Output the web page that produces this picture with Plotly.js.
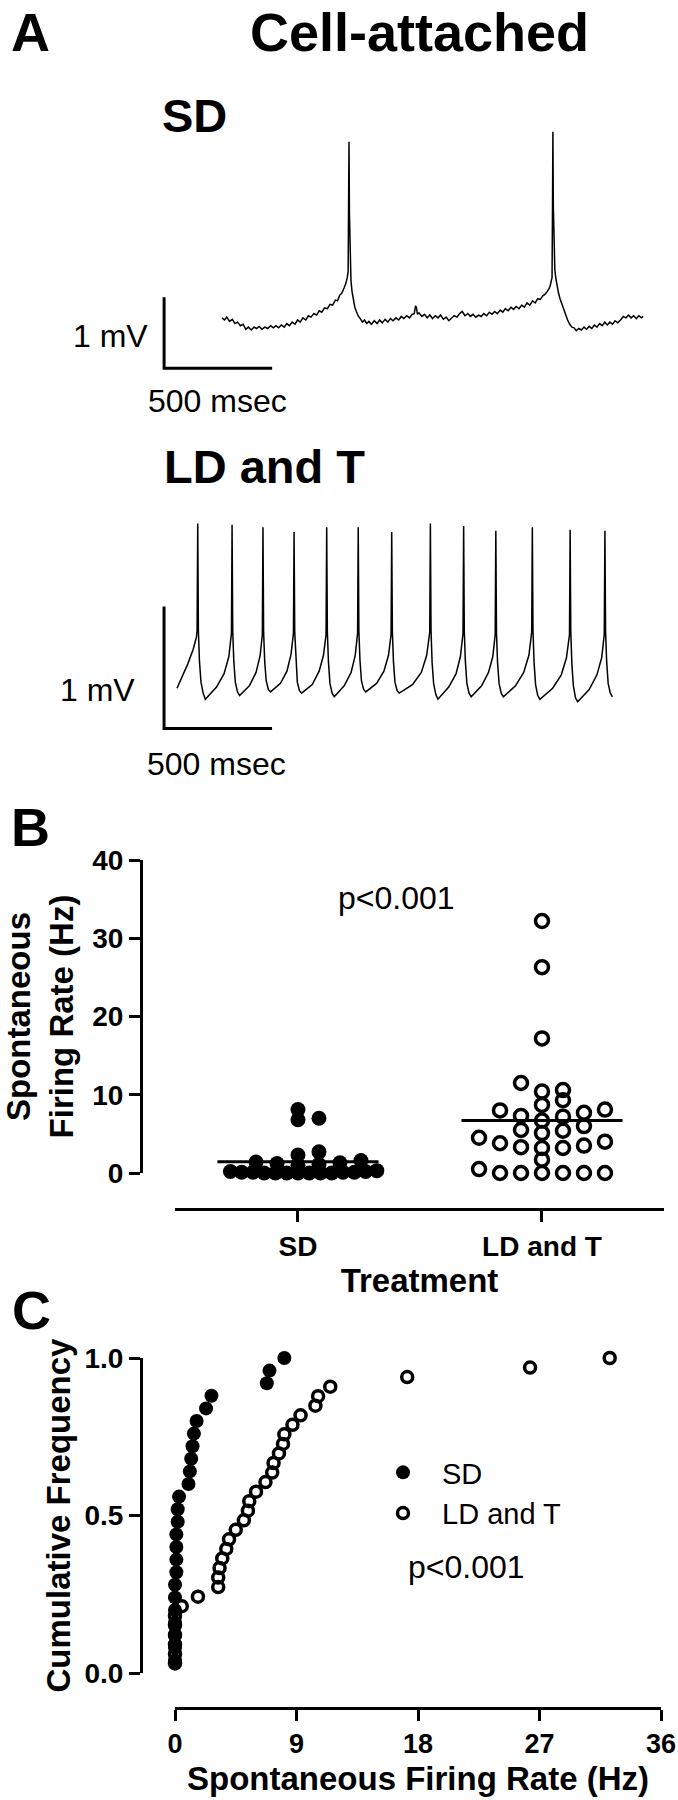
<!DOCTYPE html>
<html>
<head>
<meta charset="utf-8">
<script src="https://cdn.plot.ly/plotly-3.0.1.min.js"></script>
<style>body{margin:0;background:#fff}</style>
</head>
<body>
<div id="fig" style="width:678px;height:1800px"></div>
<script>
// Panel A: cell-attached recordings, time in ms, voltage in mV
var sdTime = [0,12,22,35,48,60,72,85,98,110,122,135,148,160,172,185,198,212,225,238,250,262,275,288,300,312,325,338,350,362,375,388,400,412,425,438,450,462,475,488,500,512,525,535,545,555,565,574,580,584,586,588,590,593,597,602,608,615,622,630,640,650,660,670,680,692,705,718,730,742,755,768,780,792,805,818,830,842,855,868,880,890,896,900,905,912,925,938,950,962,975,988,1000,1012,1025,1038,1050,1062,1075,1088,1100,1112,1125,1138,1150,1162,1175,1188,1200,1212,1225,1238,1250,1262,1275,1288,1300,1312,1325,1338,1350,1362,1375,1388,1400,1412,1425,1438,1450,1462,1474,1485,1495,1505,1514,1520,1525,1528,1530,1532,1534,1537,1541,1546,1552,1558,1565,1572,1580,1590,1600,1610,1620,1630,1640,1652,1664,1676,1688,1700,1712,1724,1736,1748,1760,1772,1784,1796,1808,1820,1832,1845,1858,1870,1882,1894,1906,1918,1930,1942,1950];
var sdVolt = [0.03,0.00,0.04,-0.02,0.01,-0.05,-0.03,-0.08,-0.06,-0.13,-0.10,-0.14,-0.10,-0.12,-0.09,-0.13,-0.10,-0.12,-0.08,-0.11,-0.08,-0.11,-0.07,-0.10,-0.05,-0.08,-0.03,-0.06,0.00,-0.03,0.03,0.00,0.06,0.04,0.09,0.07,0.13,0.11,0.17,0.16,0.22,0.21,0.28,0.27,0.35,0.38,0.45,0.52,0.60,0.68,1.60,2.51,1.50,0.80,0.56,0.40,0.28,0.18,0.12,0.06,0.02,-0.03,0.00,-0.05,-0.02,-0.06,-0.01,-0.05,0.00,-0.04,0.01,-0.03,0.02,-0.01,0.03,0.00,0.05,0.02,0.06,0.03,0.08,0.09,0.20,0.18,0.08,0.10,0.05,0.08,0.03,0.07,0.02,0.06,0.03,0.07,0.01,0.04,-0.01,0.03,0.06,0.04,0.09,0.12,0.06,0.09,0.05,0.08,0.04,0.07,0.05,0.09,0.06,0.11,0.08,0.12,0.09,0.14,0.11,0.16,0.13,0.18,0.15,0.19,0.16,0.21,0.18,0.24,0.21,0.27,0.24,0.30,0.29,0.34,0.36,0.40,0.44,0.49,0.54,0.60,1.50,2.65,1.60,0.90,0.70,0.58,0.47,0.38,0.30,0.24,0.15,0.06,0.00,-0.06,-0.10,-0.11,-0.15,-0.12,-0.14,-0.10,-0.13,-0.09,-0.12,-0.07,-0.10,-0.05,-0.08,-0.03,-0.07,-0.03,-0.06,-0.01,-0.04,0.00,0.05,0.03,0.07,0.03,0.06,0.02,0.06,0.03,0.05];

var ldTime = [0,25,50,75,90,93,96,99,104,111,121,131,183,218,240,252,255,258,263,270,280,290,335,366,385,395,398,401,406,413,423,433,479,509,528,539,542,545,550,557,567,577,626,658,678,690,693,696,701,708,718,728,774,806,825,836,839,842,847,854,864,874,924,958,979,991,994,997,1002,1009,1019,1029,1090,1131,1156,1170,1173,1176,1181,1188,1198,1208,1258,1292,1312,1324,1327,1330,1335,1342,1352,1362,1410,1442,1462,1473,1476,1479,1484,1491,1501,1511,1567,1605,1629,1642,1645,1648,1653,1660,1670,1680,1739,1779,1803,1817,1820,1823,1828,1835,1845,1855,1908,1944,1966,1978,1981,1984,1989,1996,2006,2016];
var ldVolt = [0.08,0.18,0.28,0.40,0.50,0.55,1.43,0.55,0.30,0.13,0.04,-0.01,0.09,0.20,0.34,0.53,1.42,0.55,0.30,0.13,0.05,0.02,0.10,0.21,0.35,0.52,1.40,0.54,0.30,0.14,0.07,0.05,0.12,0.22,0.36,0.53,1.36,0.54,0.30,0.13,0.06,0.04,0.11,0.22,0.35,0.52,1.40,0.55,0.30,0.12,0.04,0.01,0.10,0.21,0.35,0.53,1.40,0.55,0.31,0.14,0.07,0.05,0.12,0.22,0.35,0.52,1.36,0.55,0.30,0.13,0.06,0.04,0.11,0.21,0.35,0.54,1.43,0.55,0.29,0.12,0.03,-0.01,0.09,0.20,0.34,0.53,1.41,0.55,0.30,0.12,0.04,0.01,0.10,0.21,0.34,0.52,1.37,0.54,0.29,0.12,0.04,0.01,0.10,0.21,0.35,0.54,1.40,0.55,0.29,0.11,0.02,-0.01,0.08,0.19,0.33,0.52,1.38,0.54,0.28,0.10,0.00,-0.03,0.07,0.19,0.33,0.52,1.37,0.55,0.30,0.12,0.04,0.01];

var barMs = 500;   // time scale bar
var barMv = 1;     // voltage scale bar

// Panel B: spontaneous firing rate per cell (Hz)
var groups = ['SD', 'LD and T'];
var sdRate = [0,0,0,0,0,0,0,0.1,0.1,0.1,0.1,0.2,0.2,0.3,1.0,1.1,1.2,1.3,1.4,1.6,2.3,2.7,6.8,7.0,8.1];
var ldRate = [0,0,0,0,0,0,0.5,1.7,3.2,3.2,3.3,3.5,3.8,4.0,4.5,5.1,5.4,5.5,6.0,6.7,7.2,7.3,7.7,8.0,8.1,8.7,9.3,10.4,10.6,11.5,17.2,26.3,32.2];

var pText = 'p<0.001';

var W = 678, H = 1800;
function fx(p) { return p / W; }
function fy(p) { return 1 - p / H; }

var FONT = 'Liberation Sans, Arial, Helvetica, sans-serif';
var bold = function (s) { return {family: FONT, size: s, color: '#000', weight: 'bold'}; };
var reg = function (s) { return {family: FONT, size: s, color: '#000'}; };

// column scatter like Prism: rows of close values, spread centre-out
function columnX(vals, centre, rowH) {
  var idx = vals.map(function (v, i) { return i; }).sort(function (a, b) { return vals[a] - vals[b]; });
  var xs = new Array(vals.length);
  var rows = [], cur = [];
  idx.forEach(function (i) {
    if (cur.length && vals[i] - vals[cur[0]] > rowH) { rows.push(cur); cur = []; }
    cur.push(i);
  });
  if (cur.length) rows.push(cur);
  rows.forEach(function (r) {
    var slot = r.length > 1 ? Math.min(0.086, 0.6 / (r.length - 1)) : 0;
    r.forEach(function (i, k) {
      var n = Math.ceil(k / 2) * (k % 2 ? 1 : -1);
      xs[i] = centre + n * slot;
    });
  });
  return xs;
}
function mean(a) { return a.reduce(function (s, v) { return s + v; }, 0) / a.length; }
function ecdf(a) {
  var s = a.slice().sort(function (p, q) { return p - q; });
  return {x: s, y: s.map(function (v, i) { return (i + 1) / s.length; })};
}

var sdB = columnX(sdRate, 0, 0.9), ldB = columnX(ldRate, 1, 1.4);
var sdMean = mean(sdRate), ldMean = mean(ldRate);
var sdC = ecdf(sdRate), ldC = ecdf(ldRate);

var blk = '#000';
var data = [
  // panel A
  {x: sdTime, y: sdVolt, xaxis: 'x', yaxis: 'y', mode: 'lines', line: {color: blk, width: 1.5}, showlegend: false, hoverinfo: 'skip'},
  {x: [-268, -268, -268 + barMs], y: [-0.68 + barMv, -0.68, -0.68], xaxis: 'x', yaxis: 'y', mode: 'lines', line: {color: blk, width: 3}, showlegend: false, hoverinfo: 'skip'},
  {x: ldTime, y: ldVolt, xaxis: 'x2', yaxis: 'y2', mode: 'lines', line: {color: blk, width: 1.5}, showlegend: false, hoverinfo: 'skip'},
  {x: [-60, -60, -60 + barMs], y: [-0.25 + barMv, -0.25, -0.25], xaxis: 'x2', yaxis: 'y2', mode: 'lines', line: {color: blk, width: 3}, showlegend: false, hoverinfo: 'skip'},
  // panel B
  {x: sdB, y: sdRate, xaxis: 'x3', yaxis: 'y3', mode: 'markers', cliponaxis: false, showlegend: false,
   marker: {symbol: 'circle', size: 15, color: blk}},
  {x: ldB, y: ldRate, xaxis: 'x3', yaxis: 'y3', mode: 'markers', cliponaxis: false, showlegend: false,
   marker: {symbol: 'circle-open', size: 13, color: blk, line: {color: blk, width: 3.5}}},
  {x: [-0.33, 0.33], y: [sdMean, sdMean], xaxis: 'x3', yaxis: 'y3', mode: 'lines', line: {color: blk, width: 3}, showlegend: false, cliponaxis: false},
  {x: [0.67, 1.33], y: [ldMean, ldMean], xaxis: 'x3', yaxis: 'y3', mode: 'lines', line: {color: blk, width: 3}, showlegend: false, cliponaxis: false},
  // panel C
  {x: sdC.x, y: sdC.y, xaxis: 'x4', yaxis: 'y4', mode: 'markers', cliponaxis: false, name: groups[0],
   marker: {symbol: 'circle', size: 14, color: blk}},
  {x: ldC.x, y: ldC.y, xaxis: 'x4', yaxis: 'y4', mode: 'markers', cliponaxis: false, name: groups[1],
   marker: {symbol: 'circle-open', size: 11, color: blk, line: {color: blk, width: 3.5}}}
];

var hidden = {visible: false, fixedrange: true};
var axStyle = {
  showline: true, linecolor: blk, linewidth: 3, ticks: 'outside', ticklen: 11, tickwidth: 3, tickcolor: blk,
  showgrid: false, zeroline: false, tickfont: bold(28), fixedrange: true, ticklabelstandoff: 0
};

var layout = {
  width: W, height: H,
  margin: {l: 0, r: 0, t: 0, b: 0},
  paper_bgcolor: '#fff', plot_bgcolor: 'rgba(0,0,0,0)',
  font: reg(20),
  xaxis: Object.assign({domain: [fx(150), fx(660)], range: [-333.3, 2027.8], anchor: 'y'}, hidden),
  yaxis: Object.assign({domain: [fy(390), fy(110)], range: [-0.986, 2.958], anchor: 'x'}, hidden),
  xaxis2: Object.assign({domain: [fx(150), fx(660)], range: [-125, 2236], anchor: 'y2'}, hidden),
  yaxis2: Object.assign({domain: [fy(760), fy(500)], range: [-0.508, 1.623], anchor: 'x2'}, hidden),
  xaxis3: Object.assign({}, axStyle, {
    domain: [fx(175), fx(664)], range: [-0.504, 1.5], anchor: 'free', position: fy(1209),
    tickvals: [0, 1], ticktext: groups,
    title: {text: 'Treatment', font: bold(33), standoff: 8}
  }),
  yaxis3: Object.assign({}, axStyle, {
    domain: [fy(1173), fy(860)], range: [0, 40], anchor: 'free', position: fx(141),
    tickvals: [0, 10, 20, 30, 40],
    title: {text: 'Spontaneous<br>Firing Rate (Hz)', font: bold(33), standoff: 22}
  }),
  xaxis4: Object.assign({}, axStyle, {
    domain: [fx(175), fx(661)], range: [0, 36], anchor: 'free', position: fy(1708),
    tickvals: [0, 9, 18, 27, 36], tickfont: bold(27), ticklabeloverflow: 'allow',
    title: {text: 'Spontaneous Firing Rate (Hz)', font: bold(33), standoff: 8}
  }),
  yaxis4: Object.assign({}, axStyle, {
    domain: [fy(1673), fy(1358)], range: [0, 1], anchor: 'free', position: fx(141),
    tickvals: [0, 0.5, 1], tickformat: '.1f',
    title: {text: 'Cumulative Frequency', font: bold(33), standoff: 2}
  }),
  legend: {x: fx(364), y: fy(1447), xanchor: 'left', yanchor: 'top', font: reg(29), itemwidth: 68,
           bgcolor: 'rgba(0,0,0,0)', borderwidth: 0, itemclick: false},
  annotations: [
    {text: 'A', x: fx(9), y: 1, xref: 'paper', yref: 'paper', xanchor: 'left', yanchor: 'top', showarrow: false, font: bold(54)},
    {text: 'Cell-attached', x: fx(419), y: fy(32), xref: 'paper', yref: 'paper', xanchor: 'center', yanchor: 'middle', showarrow: false, font: bold(54)},
    {text: 'SD', x: fx(160), y: fy(116), xref: 'paper', yref: 'paper', xanchor: 'left', yanchor: 'middle', showarrow: false, font: bold(47)},
    {text: '1 mV', x: fx(150), y: fy(336), xref: 'paper', yref: 'paper', xanchor: 'right', yanchor: 'middle', showarrow: false, font: reg(32)},
    {text: '500 msec', x: fx(217), y: fy(401), xref: 'paper', yref: 'paper', xanchor: 'center', yanchor: 'middle', showarrow: false, font: reg(32)},
    {text: 'LD and T', x: fx(162), y: fy(466), xref: 'paper', yref: 'paper', xanchor: 'left', yanchor: 'middle', showarrow: false, font: bold(47)},
    {text: '1 mV', x: fx(137), y: fy(690), xref: 'paper', yref: 'paper', xanchor: 'right', yanchor: 'middle', showarrow: false, font: reg(32)},
    {text: '500 msec', x: fx(216), y: fy(764), xref: 'paper', yref: 'paper', xanchor: 'center', yanchor: 'middle', showarrow: false, font: reg(32)},
    {text: 'B', x: fx(9), y: fy(827), xref: 'paper', yref: 'paper', xanchor: 'left', yanchor: 'middle', showarrow: false, font: bold(54)},
    {text: pText, x: fx(396), y: fy(898), xref: 'paper', yref: 'paper', xanchor: 'center', yanchor: 'middle', showarrow: false, font: reg(32)},
    {text: 'C', x: fx(10), y: fy(1310), xref: 'paper', yref: 'paper', xanchor: 'left', yanchor: 'middle', showarrow: false, font: bold(54)},
    {text: pText, x: fx(466), y: fy(1567), xref: 'paper', yref: 'paper', xanchor: 'center', yanchor: 'middle', showarrow: false, font: reg(32)}
  ]
};

Plotly.newPlot('fig', data, layout, {displayModeBar: false, staticPlot: true});
</script>
</body>
</html>
